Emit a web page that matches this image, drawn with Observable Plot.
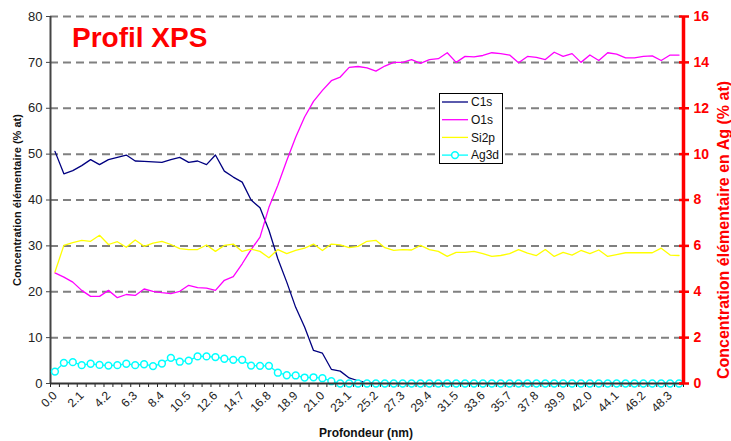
<!DOCTYPE html>
<html><head><meta charset="utf-8">
<script src="https://cdn.jsdelivr.net/npm/d3@7"></script>
<script src="https://cdn.jsdelivr.net/npm/@observablehq/plot@0.6"></script>
<style>body{margin:0;background:#fff;} #chart{width:731px;height:441px;}</style>
</head><body><div id="chart"></div>
<script>
const depth = [0.0,0.7,1.4,2.1,2.8,3.5,4.2,4.9,5.6,6.3,7.0,7.7,8.4,9.1,9.8,10.5,11.2,11.9,12.6,13.3,14.0,14.7,15.4,16.1,16.8,17.5,18.2,18.9,19.6,20.3,21.0,21.7,22.4,23.1,23.8,24.5,25.2,25.9,26.6,27.3,28.0,28.7,29.4,30.1,30.8,31.5,32.2,32.9,33.6,34.3,35.0,35.7,36.4,37.1,37.8,38.5,39.2,39.9,40.6,41.3,42.0,42.7,43.4,44.1,44.8,45.5,46.2,46.9,47.6,48.3,49.0];
const c1s = [50.6,45.7,46.4,47.5,48.8,47.7,48.8,49.3,49.8,48.5,
  48.4,48.3,48.2,48.8,49.3,48.2,48.5,47.7,49.8,46.3,
  45.0,43.9,40.0,38.3,33.4,27.2,22.1,16.6,12.3,7.2,
  6.6,3.1,2.7,1.2,0.6,0.15,0,0,0,0,
  0,0,0,0,0,0,0,0,0,0,0,0,0,0,0,0,0,0,0,0,0,0,0,0,0,0,0,0,0,0,0];
const o1s = [24.1,23.2,22.1,20.3,19.0,19.0,20.3,18.7,19.4,19.2,
  20.6,20.1,19.8,19.6,20.1,21.4,20.9,20.8,20.3,22.5,
  23.3,26.1,29.2,31.9,38.4,43.2,48.6,53.7,58.1,61.5,
  63.9,66.0,66.8,68.9,69.1,68.8,68.1,69.2,70.0,70.0,
  70.6,69.8,70.6,70.8,72.1,70.0,71.3,71.2,71.5,72.1,
  71.9,71.6,69.9,71.3,71.1,70.6,72.2,71.3,71.9,70.0,
  71.6,70.4,72.1,71.8,71.0,71.0,71.3,71.4,70.4,71.6,71.6];
const si2p = [24.3,30.1,30.7,31.2,31.0,32.3,30.3,30.9,29.7,31.3,
  29.9,30.6,31.0,30.3,29.4,29.2,29.2,30.2,28.8,30.1,
  30.4,28.8,29.3,28.8,27.4,29.2,28.3,29.0,29.5,30.4,
  29.0,30.4,30.2,29.6,29.9,31.0,31.2,29.6,29.0,29.2,
  29.1,30.1,29.2,28.8,27.7,28.6,28.6,28.8,28.3,27.7,
  27.9,28.3,29.2,28.4,27.9,29.2,27.7,28.6,28.0,29.0,
  28.3,29.1,27.7,28.1,28.5,28.5,28.5,28.5,29.5,28.0,27.9];
// Ag3d in right-axis units (% at Ag, 0-16)
const ag3d = [0.52,0.90,0.93,0.80,0.86,0.81,0.78,0.80,0.86,0.80,
  0.84,0.76,0.87,1.12,0.95,1.00,1.18,1.18,1.15,1.08,
  1.03,1.03,0.78,0.77,0.77,0.47,0.36,0.35,0.26,0.27,
  0.23,0.10,0,0,0,0,0,0,0,0,
  0,0,0,0,0,0,0,0,0,0,0,0,0,0,0,0,0,0,0,0,0,0,0,0,0,0,0,0,0,0,0];
const seriesNames = ["C1s","O1s","Si2p","Ag3d"];
const seriesColors = ["#000080","#ff00ff","#ffff00","#00ffff"];
const leftTicks = [0,10,20,30,40,50,60,70,80];
const rightTicks = [0,2,4,6,8,10,12,14,16];
const xTickLabels = depth.filter((d,i)=> i % 3 === 0);
const step = 0.7;
const xLo = depth[0] - step/2, xHi = depth[depth.length-1] + step/2;
const boundaries = depth.map(d => d - step/2).concat([xHi]);
const ratio = 80/16;

const rowsC = depth.map((d,i)=>({x:d, y:c1s[i]}));
const rowsO = depth.map((d,i)=>({x:d, y:o1s[i]}));
const rowsS = depth.map((d,i)=>({x:d, y:si2p[i]}));
const rowsA = depth.map((d,i)=>({x:d, y:ag3d[i]*ratio}));

const FONT = "Liberation Sans, Arial, Helvetica, sans-serif";
const plot = Plot.plot({
  width:731, height:441, marginLeft:50, marginRight:48, marginTop:16, marginBottom:58,
  style:{fontFamily:FONT, background:"white", overflow:"visible"},
  x:{domain:[xLo,xHi]},
  y:{domain:[0,80]},
  marks:[
    Plot.gridY(leftTicks.slice(1), {stroke:"#808080", strokeOpacity:1, strokeWidth:2, strokeDasharray:"8,5"}),
    Plot.axisY({ticks:leftTicks, tickSize:4, tickPadding:4, fontSize:13, fill:"#222", stroke:"#444", label:null}),
    Plot.ruleX([xLo], {stroke:"#444", strokeWidth:2}),
    Plot.axisX({ticks:boundaries, tickSize:4, tickFormat:()=>"", stroke:"#222", label:null}),
    Plot.axisX({ticks:xTickLabels, tickSize:0, tickPadding:10, tickRotate:-45, tickFormat:d=>d.toFixed(1), fontSize:12, fill:"#222", label:null}),
    Plot.lineY(rowsC, {x:"x", y:"y", stroke:seriesColors[0], strokeWidth:1.3}),
    Plot.lineY(rowsO, {x:"x", y:"y", stroke:seriesColors[1], strokeWidth:1.3}),
    Plot.lineY(rowsS, {x:"x", y:"y", stroke:seriesColors[2], strokeWidth:1.3}),
    Plot.lineY(rowsA, {x:"x", y:"y", stroke:seriesColors[3], strokeWidth:1.3}),
    Plot.dot(rowsA, {x:"x", y:"y", r:3.4, stroke:seriesColors[3], strokeWidth:1.5, fill:"white"}),
    Plot.ruleY([0], {stroke:"#333", strokeWidth:2}),
    Plot.ruleX([xHi], {stroke:"red", strokeWidth:3.5}),
    Plot.axisY({anchor:"right", ticks:rightTicks.map(d=>d*ratio), tickSize:10, dx:-5, tickFormat:()=>"", stroke:"red", strokeWidth:2.5, label:null}),
    Plot.axisY({anchor:"right", ticks:rightTicks.map(d=>d*ratio), tickSize:0, tickPadding:10, tickFormat:d=>String(d/ratio), fontSize:14, fontWeight:"bold", fill:"red", label:null})
  ]
});
document.getElementById("chart").appendChild(plot);

const svg = d3.select(plot);
svg.append("text").attr("x",72).attr("y",47).attr("text-anchor","start").attr("fill","red").attr("font-size",28).attr("font-weight","bold").attr("font-family",FONT).text("Profil XPS");
svg.append("text").attr("transform","translate(21,200) rotate(-90)").attr("text-anchor","middle").attr("fill","#111").attr("font-size",11).attr("font-weight","bold").attr("font-family",FONT).text("Concentration élémentaire (% at)");
svg.append("text").attr("transform","translate(729,230) rotate(-90)").attr("text-anchor","middle").attr("fill","red").attr("font-size",16).attr("font-weight","bold").attr("font-family",FONT).text("Concentration élémentaire en Ag (% at)");
svg.append("text").attr("x",366).attr("y",437).attr("text-anchor","middle").attr("fill","#111").attr("font-size",12).attr("font-weight","bold").attr("font-family",FONT).text("Profondeur (nm)");

const lg = svg.append("g").attr("font-family",FONT).attr("font-size",12).attr("text-anchor","start");
lg.append("rect").attr("x",439.5).attr("y",93.5).attr("width",63).attr("height",70).attr("fill","white").attr("stroke","black");
seriesNames.forEach((n,i)=>{
  const y = 102 + i*17.7;
  lg.append("line").attr("x1",442).attr("x2",468).attr("y1",y).attr("y2",y).attr("stroke",seriesColors[i]).attr("stroke-width",1.3);
  if (n === "Ag3d") lg.append("circle").attr("cx",455).attr("cy",y).attr("r",3.4).attr("fill","white").attr("stroke",seriesColors[i]).attr("stroke-width",1.5);
  lg.append("text").attr("x",471).attr("y",y+4.3).attr("text-anchor","start").attr("fill","#111").text(n);
});
</script>
</body></html>
